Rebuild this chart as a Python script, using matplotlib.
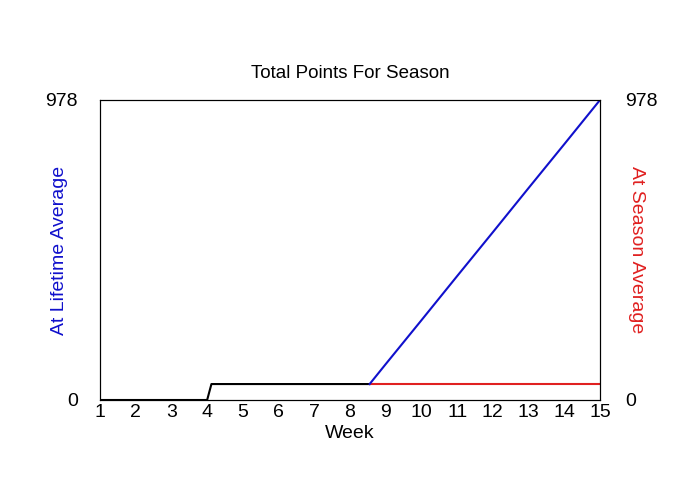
import matplotlib
matplotlib.use('Agg')
import matplotlib.pyplot as plt

plt.rcParams['font.family'] = ['Liberation Sans', 'DejaVu Sans']

# data
y_max = 978
early_weeks = [1, 2, 3, 4, 4.12, 5, 6, 7, 8, 8.55]
early_points = [0, 0, 0, 0, 52, 52, 52, 52, 52, 52]
lifetime_weeks = [8.55, 9, 10, 11, 12, 13, 14, 15]
lifetime_points = [52, 117, 260, 404, 547, 691, 834, 978]
season_weeks = [8.55, 15]
season_points = [52, 52]
week_ticks = list(range(1, 16))

fig = plt.figure(figsize=(7, 5), dpi=100)
ax = fig.add_axes([100 / 700, 0.2, 500 / 700, 0.6])

ax.plot(early_weeks, early_points, color='black', lw=1.5)
ax.plot(season_weeks, season_points, color='#e02020', lw=1.5)
ax.plot(lifetime_weeks, lifetime_points, color='#1010cc', lw=1.5)

ax.set_xlim(1, 15)
ax.set_ylim(0, y_max)
ax.set_xticks(week_ticks)
ax.set_yticks([0, y_max])
ax.tick_params(axis='x', length=0, pad=3, labelsize=14)
ax.tick_params(axis='y', length=0, pad=16, labelsize=14)
ax.set_xlabel('Week', fontsize=14, labelpad=3)
ax.set_title('Total Points For Season', fontsize=13.5, pad=16)
ax.set_ylabel('At Lifetime Average', color='#1010cc', fontsize=14)
ax.yaxis.set_label_coords(-0.064, 0.5)

ax2 = ax.twinx()
ax2.set_ylim(0, y_max)
ax2.set_yticks([0, y_max])
ax2.tick_params(axis='y', length=0, pad=18, labelsize=14)
ax2.set_ylabel('At Season Average', color='#e02020', fontsize=14, rotation=270)
ax2.yaxis.set_label_coords(1.09, 0.5)

fig.savefig('out.png', dpi=100)
